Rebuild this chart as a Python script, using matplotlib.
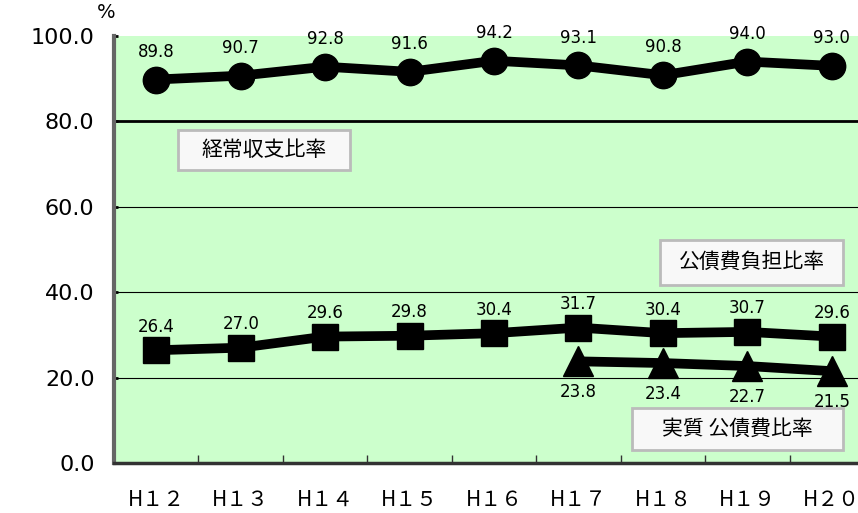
import matplotlib.pyplot as plt
from matplotlib.patches import Rectangle

plt.rcParams['font.family'] = ['DejaVu Sans', 'Noto Sans CJK JP']

nendo = ['H１２', 'H１３', 'H１４', 'H１５', 'H１６', 'H１７', 'H１８', 'H１９', 'H２０']
keijo = [89.8, 90.7, 92.8, 91.6, 94.2, 93.1, 90.8, 94.0, 93.0]
kosaihi = [26.4, 27.0, 29.6, 29.8, 30.4, 31.7, 30.4, 30.7, 29.6]
jisshitsu_nendo = ['H１７', 'H１８', 'H１９', 'H２０']
jisshitsu = [23.8, 23.4, 22.7, 21.5]

jp = ['Noto Sans CJK JP', 'DejaVu Sans']

fig = plt.figure(figsize=(8.58, 5.13), dpi=100)
ax = fig.add_axes([0.1329, 0.0975, 0.8858, 0.8324])
ax.set_facecolor('#ccffcc')

x = list(range(len(nendo)))
xj = [nendo.index(n) for n in jisshitsu_nendo]

ax.plot(x, keijo, color='black', lw=7, marker='o', ms=19, zorder=3)
ax.plot(x, kosaihi, color='black', lw=7, marker='s', ms=19, zorder=3)
ax.plot(xj, jisshitsu, color='black', lw=7, marker='^', ms=21, zorder=3)

# 数値ラベル
for xi, v in zip(x, keijo):
    ax.annotate(f'{v:.1f}', (xi, v), xytext=(0, 20), textcoords='offset points',
                ha='center', va='center', fontsize=12)
for xi, v in zip(x, kosaihi):
    ax.annotate(f'{v:.1f}', (xi, v), xytext=(0, 17), textcoords='offset points',
                ha='center', va='center', fontsize=12)
for xi, v in zip(xj, jisshitsu):
    ax.annotate(f'{v:.1f}', (xi, v), xytext=(0, -22), textcoords='offset points',
                ha='center', va='center', fontsize=12)

ax.set_ylim(0, 100)
ax.set_xlim(-0.5, len(nendo) - 0.5)
ax.set_yticks([0, 20, 40, 60, 80, 100])
ax.set_yticklabels([f'{t:.1f}' for t in [0, 20, 40, 60, 80, 100]], fontsize=16)
ax.set_xticks(x)
ax.set_xticklabels(nendo, fontsize=15, family=jp)
for lbl in ax.get_xticklabels():
    lbl.set_verticalalignment('baseline')
ax.tick_params(axis='x', length=0, pad=31)
ax.set_xticks([i + 0.5 for i in range(len(nendo))], minor=True)
ax.tick_params(axis='x', which='minor', direction='in', length=6, width=1, color='#333333')
ax.tick_params(axis='y', length=3, width=2, direction='in', pad=14)

for g in [20, 40, 60]:
    ax.axhline(g, color='black', lw=0.8, zorder=1)
ax.axhline(80, color='black', lw=2, zorder=1)

ax.spines['top'].set_visible(False)
ax.spines['right'].set_visible(False)
ax.spines['left'].set_color('#666666')
ax.spines['left'].set_linewidth(3)
ax.spines['bottom'].set_color('#333333')
ax.spines['bottom'].set_linewidth(2.5)

# 系列名の枠
boxes = [
    ((0.258, 68.6), 2.037, 9.4, (1.277, 73.3), '経常収支比率'),
    ((5.966, 41.7), 2.167, 10.5, (7.05, 47.0), '公債費負担比率'),
    ((5.634, 3.0), 2.499, 9.9, (6.88, 7.95), '実質 公債費比率'),
]
for xy, w, h, c, label in boxes:
    ax.add_patch(Rectangle(xy, w, h, facecolor='#f8f8f8', edgecolor='#bbbbbb',
                           lw=2, zorder=4))
    ax.text(c[0], c[1], label, fontsize=15, ha='center', va='center',
            family=jp, zorder=5)

fig.text(0.113, 0.995, '%', fontsize=14, ha='left', va='top')

fig.savefig('out.png', dpi=100)
